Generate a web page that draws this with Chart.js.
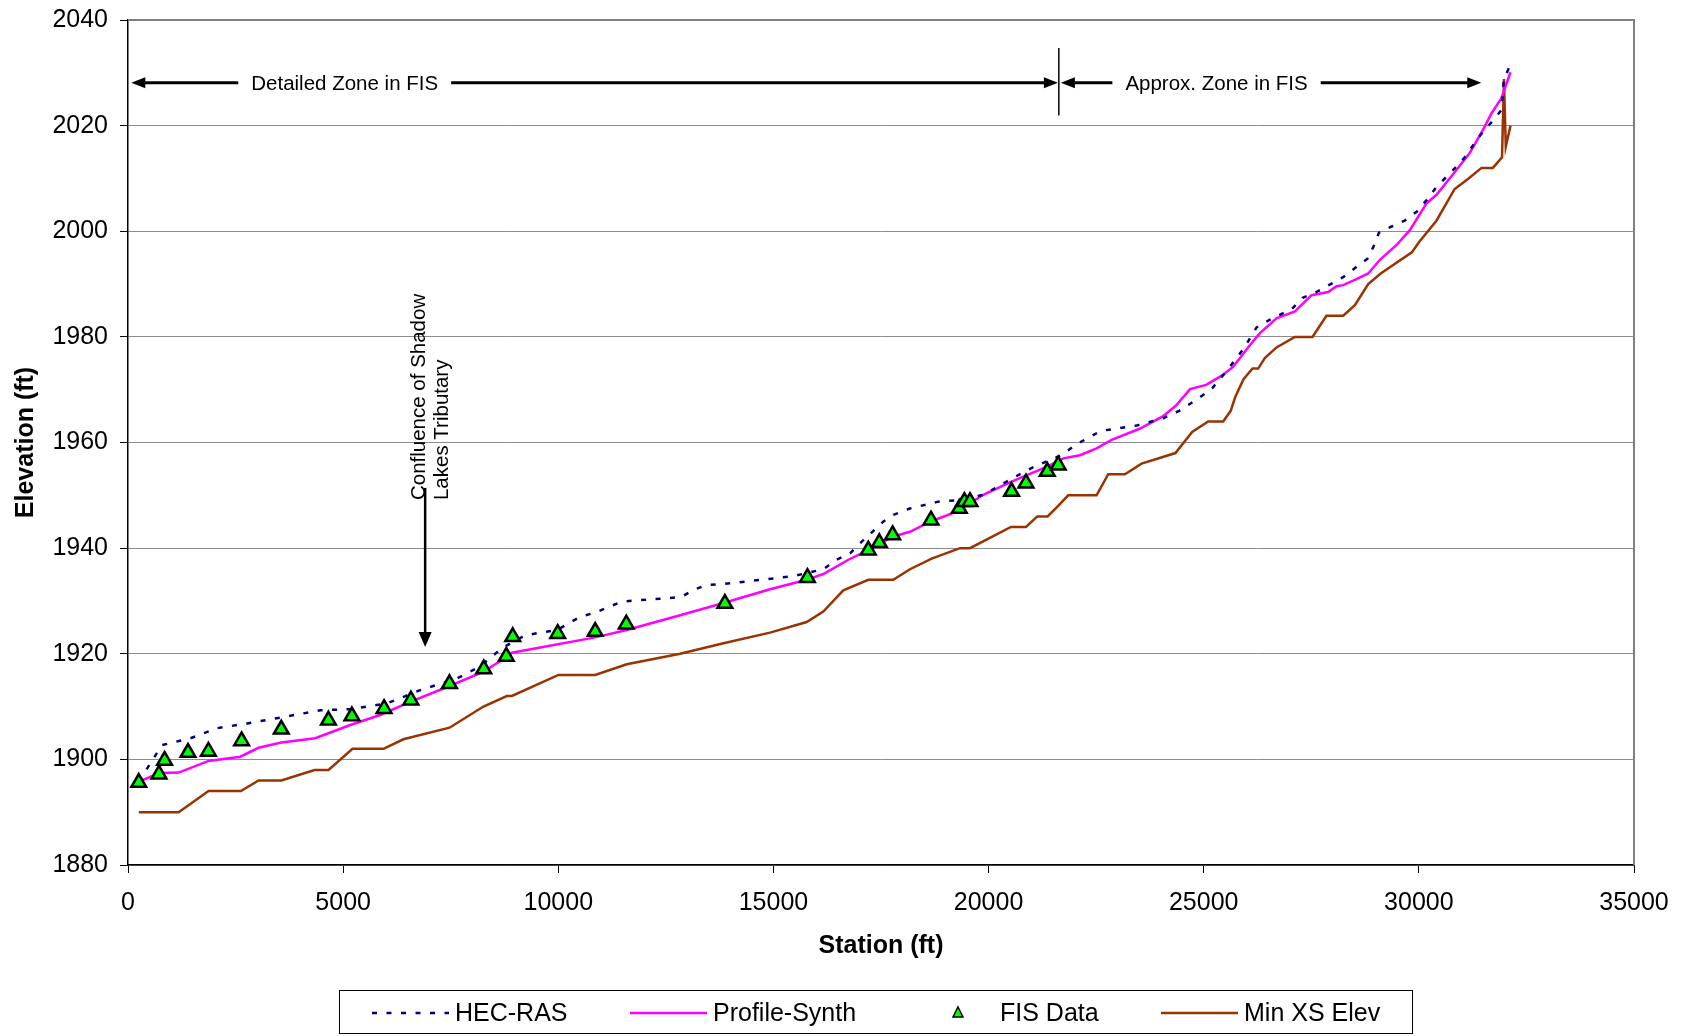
<!DOCTYPE html>
<html>
<head>
<meta charset="utf-8">
<title>Elevation profile</title>
<script src="https://cdn.jsdelivr.net/npm/chart.js@4.4.1/dist/chart.umd.min.js"></script>
<style>
  html, body { margin: 0; padding: 0; background: #fff; }
  #wrap { width: 1681px; height: 1036px; }
</style>
</head>
<body>
<div id="wrap"><canvas id="chart" width="1681" height="1036"></canvas></div>
<script>
// HEC-RAS water surface
const hecStation = [250, 790, 1450, 2070, 2770, 3460, 4470, 5170, 6020, 6790, 7640, 8180, 8700, 9230, 9970, 10510,
  10860, 11480, 12520, 12870, 13140, 13450, 14070, 15460, 16160, 16470, 16780, 17010, 17550, 17790, 18170, 18830,
  19340, 19880, 20770, 21080, 21700, 22010, 22610, 23440, 24060, 24430, 24810, 25180, 25550, 25930, 26230, 26550,
  27050, 27300, 27620, 28240, 28510, 28820, 28980, 29070, 29370, 29670, 29950, 30180, 30410, 30640, 30870, 31110,
  31340, 31530, 31770, 31920, 31975, 32115];
const hecElev = [1895.8, 1902.7, 1904.0, 1905.9, 1906.8, 1907.8, 1909.3, 1909.5, 1910.6, 1913.1, 1915.3, 1917.6,
  1921.1, 1923.5, 1924.5, 1927.0, 1927.8, 1929.9, 1930.5, 1930.8, 1932.1, 1933.0, 1933.4, 1934.7, 1936.0, 1937.8,
  1939.0, 1940.9, 1945.0, 1946.3, 1947.5, 1948.8, 1949.1, 1950.1, 1954.2, 1955.5, 1957.6, 1959.5, 1962.2, 1963.2,
  1964.6, 1966.0, 1968.0, 1970.1, 1973.7, 1977.8, 1981.8, 1983.3, 1985.3, 1987.4, 1988.5, 1991.3, 1993.0, 1994.9,
  1997.7, 1999.7, 2000.9, 2002.0, 2003.7, 2005.9, 2008.4, 2010.3, 2012.2, 2014.4, 2017.3, 2019.2, 2021.4, 2023.0,
  2028.8, 2031.3];

// synthesized profile
const synthStation = [250, 735, 1176, 1873, 2610, 3034, 3562, 4351, 5165, 5860, 6558, 7449, 8261, 8804, 8921, 10857,
  11591, 12832, 13838, 14921, 15773, 16159, 16742, 17204, 17785, 18173, 18639, 19257, 19877, 20534, 21349, 21735,
  22124, 22510, 22859, 23510, 24058, 24357, 24681, 25055, 25429, 25678, 25852, 26072, 26306, 26692, 27118, 27506,
  27892, 28086, 28241, 28513, 28823, 29095, 29483, 29790, 30179, 30410, 30873, 31181, 31490, 31687, 31919, 32128];
const synthElev = [1895.8, 1897.4, 1897.5, 1899.7, 1900.5, 1902.2, 1903.2, 1904.0, 1906.5, 1908.4, 1910.9, 1913.8,
  1916.6, 1919.4, 1920.2, 1923.1, 1924.5, 1927.3, 1929.6, 1932.2, 1934.0, 1935.1, 1937.8, 1939.6, 1942.2, 1943.1,
  1945.0, 1946.9, 1950.1, 1952.6, 1955.4, 1957.0, 1957.6, 1958.9, 1960.5, 1962.6, 1965.0, 1967.0, 1970.1, 1970.9,
  1972.7, 1974.3, 1976.1, 1978.4, 1980.7, 1983.5, 1984.8, 1987.9, 1988.5, 1989.6, 1989.8, 1990.8, 1992.0, 1994.6,
  1997.4, 2000.2, 2005.3, 2006.9, 2011.6, 2014.8, 2019.2, 2022.3, 2025.2, 2030.1];

// FIS published elevations
const fisStation = [250, 720, 850, 1395, 1868, 2640, 3562, 4658, 5204, 5951, 6574, 7471, 8268, 8791, 8941, 9986,
  10858, 11580, 13872, 15790, 17204, 17461, 17770, 18662, 19320, 19436, 19568, 20534, 20869, 21364, 21618];
const fisElev = [1895.6, 1897.2, 1899.8, 1901.3, 1901.5, 1903.5, 1905.7, 1907.4, 1908.2, 1909.6, 1911.2, 1914.3,
  1917.1, 1919.5, 1923.2, 1923.8, 1924.2, 1925.6, 1929.5, 1934.4, 1939.6, 1941.0, 1942.5, 1945.3, 1947.5, 1948.8,
  1948.8, 1950.7, 1952.3, 1954.5, 1955.7];

// minimum cross-section elevation
const minStation = [250, 1176, 1873, 2625, 3034, 3562, 4336, 4660, 5218, 5938, 6400, 7472, 8261, 8804, 8921, 10005,
  10857, 11591, 12832, 13838, 14921, 15773, 16159, 16624, 17205, 17785, 18173, 18677, 19335, 19568, 20520, 20869,
  21133, 21372, 21618, 21850, 22510, 22781, 23168, 23556, 24343, 24731, 25104, 25453, 25627, 25733, 25926, 26134,
  26266, 26420, 26692, 27118, 27528, 27852, 28241, 28513, 28823, 29113, 29836, 30010, 30408, 30832, 31156, 31455,
  31720, 31933, 31978, 32020, 32130];
const minElev = [1890, 1890, 1894, 1894, 1896, 1896, 1898, 1898, 1902, 1902, 1903.8, 1906, 1910, 1912, 1912, 1916,
  1916, 1918, 1920, 1922, 1924, 1926, 1928, 1932, 1934, 1934, 1936, 1938, 1940, 1940, 1944, 1944,
  1946, 1946, 1948, 1950, 1950, 1954, 1954, 1956, 1958, 1962, 1964, 1964, 1966, 1968.6, 1972, 1974,
  1974, 1976, 1978, 1980, 1980, 1984, 1984, 1986, 1990, 1992, 1996, 1998, 2002, 2008, 2010, 2012,
  2012, 2014, 2028.8, 2016, 2020];

const xTicks = [0, 5000, 10000, 15000, 20000, 25000, 30000, 35000];
const yTicks = [1880, 1900, 1920, 1940, 1960, 1980, 2000, 2020, 2040];

const pts = (xs, ys) => xs.map((x, i) => ({ x: x, y: ys[i] }));

const FONT = 'Liberation Sans, Arial, sans-serif';

function arrowHead(ctx, x, y, dx, dy, len, half) {
  ctx.beginPath();
  ctx.moveTo(x, y);
  ctx.lineTo(x - dx * len - dy * half, y - dy * len + dx * half);
  ctx.lineTo(x - dx * len + dy * half, y - dy * len - dx * half);
  ctx.closePath();
  ctx.fill();
}

function zoneArrow(ctx, x1, x2, y, label, cx) {
  ctx.beginPath();
  ctx.moveTo(x1 + 10, y);
  ctx.lineTo(x2 - 10, y);
  ctx.stroke();
  arrowHead(ctx, x1, y, -1, 0, 14, 5.5);
  arrowHead(ctx, x2, y, 1, 0, 14, 5.5);
  const w = ctx.measureText(label).width;
  ctx.fillStyle = '#fff';
  ctx.fillRect(cx - w / 2 - 13, y - 12, w + 26, 24);
  ctx.fillStyle = '#000';
  ctx.fillText(label, cx, y + 1);
}

const notes = {
  id: 'notes',
  beforeDatasetsDraw(chart) {
    const { ctx, chartArea: a } = chart;
    ctx.save();
    ctx.strokeStyle = '#808080';
    ctx.lineWidth = 2;
    ctx.beginPath();
    ctx.moveTo(a.left, a.top);
    ctx.lineTo(a.right, a.top);
    ctx.lineTo(a.right, a.bottom);
    ctx.stroke();
    ctx.restore();
  },
  afterDatasetsDraw(chart) {
    const { ctx } = chart;
    const xs = chart.scales.x, ys = chart.scales.y;
    ctx.save();
    ctx.fillStyle = '#000';
    ctx.strokeStyle = '#000';
    ctx.lineWidth = 3;
    ctx.font = '20.5px ' + FONT;
    ctx.textAlign = 'center';
    ctx.textBaseline = 'middle';

    // zone arrows along the top
    const yz = ys.getPixelForValue(2028.1);
    zoneArrow(ctx, xs.getPixelForValue(77), xs.getPixelForValue(21611), yz, 'Detailed Zone in FIS', xs.getPixelForValue(5036));
    zoneArrow(ctx, xs.getPixelForValue(21680), xs.getPixelForValue(31450), yz, 'Approx. Zone in FIS', xs.getPixelForValue(25298));
    const xd = xs.getPixelForValue(21633);
    ctx.lineWidth = 1.5;
    ctx.beginPath();
    ctx.moveTo(xd, ys.getPixelForValue(2034.7));
    ctx.lineTo(xd, ys.getPixelForValue(2021.9));
    ctx.stroke();

    // confluence note
    const xa = xs.getPixelForValue(6906);
    const yTxt = ys.getPixelForValue(1949.1);
    ctx.save();
    ctx.translate(xa, yTxt);
    ctx.rotate(-Math.PI / 2);
    ctx.textAlign = 'left';
    ctx.textBaseline = 'alphabetic';
    ctx.fillText('Confluence of Shadow', 0, 0);
    ctx.fillText('Lakes Tributary', 0, 23);
    ctx.restore();
    const yTip = ys.getPixelForValue(1921.3);
    ctx.lineWidth = 2.5;
    ctx.beginPath();
    ctx.moveTo(xa, ys.getPixelForValue(1951.4));
    ctx.lineTo(xa, yTip - 10);
    ctx.stroke();
    arrowHead(ctx, xa, yTip, 0, 1, 15, 6.5);

    // legend
    const box = { l: 339, t: 990, r: 1412, b: 1033 };
    ctx.lineWidth = 1;
    ctx.strokeStyle = '#000';
    ctx.strokeRect(box.l + 0.5, box.t + 0.5, box.r - box.l, box.b - box.t);
    const slotX = [372, 630, 958, 1161];
    const ly = 1013;
    ctx.font = '25px ' + FONT;
    ctx.textAlign = 'left';
    ctx.textBaseline = 'middle';
    chart.data.datasets.forEach((ds, i) => {
      const x0 = slotX[i];
      let tx;
      if (ds.showLine === false) {
        ctx.save();
        ctx.fillStyle = ds.pointBackgroundColor;
        ctx.strokeStyle = ds.pointBorderColor;
        ctx.lineWidth = 1.5;
        ctx.beginPath();
        ctx.moveTo(x0, ly - 6);
        ctx.lineTo(x0 + 5, ly + 4);
        ctx.lineTo(x0 - 5, ly + 4);
        ctx.closePath();
        ctx.fill();
        ctx.stroke();
        ctx.restore();
        tx = x0 + 42;
      } else {
        ctx.save();
        ctx.strokeStyle = ds.borderColor;
        ctx.lineWidth = ds.borderWidth;
        ctx.setLineDash(ds.borderDash || []);
        ctx.beginPath();
        ctx.moveTo(x0, ly);
        ctx.lineTo(x0 + 77, ly);
        ctx.stroke();
        ctx.restore();
        tx = x0 + 83;
      }
      ctx.fillStyle = '#000';
      ctx.fillText(ds.label, tx, ly + 1);
    });
    ctx.restore();
  }
};

const tickFont = { family: FONT, size: 25 };
const titleFont = { family: FONT, size: 25, weight: 'bold' };
const plain = v => String(v);

new Chart(document.getElementById('chart'), {
  type: 'line',
  data: {
    datasets: [
      { label: 'HEC-RAS', data: pts(hecStation, hecElev), borderColor: '#000080', borderWidth: 2.5,
        borderDash: [5, 9.5], pointRadius: 0, tension: 0 },
      { label: 'Profile-Synth', data: pts(synthStation, synthElev), borderColor: '#ff00ff', borderWidth: 2.5,
        pointRadius: 0, tension: 0 },
      { label: 'FIS Data', data: pts(fisStation, fisElev), showLine: false, pointStyle: 'triangle', pointRadius: 8.5,
        pointBackgroundColor: '#00ff00', pointBorderColor: '#000', pointBorderWidth: 2.5, order: -1 },
      { label: 'Min XS Elev', data: pts(minStation, minElev), borderColor: '#993300', borderWidth: 2.5,
        pointRadius: 0, tension: 0 }
    ]
  },
  options: {
    responsive: false,
    animation: false,
    events: [],
    layout: { padding: { top: 20, right: 47, left: 0, bottom: 0 } },
    scales: {
      x: {
        type: 'linear', min: 0, max: 35000,
        afterBuildTicks: s => { s.ticks = xTicks.map(v => ({ value: v })); },
        afterFit: s => { s.height = 171; s.paddingLeft = 0; s.paddingRight = 0; },
        ticks: { font: tickFont, color: '#000', padding: 15, maxRotation: 0, callback: plain },
        grid: { drawOnChartArea: false, tickColor: '#000', tickLength: 8 },
        border: { color: '#000', width: 1.5 },
        title: { display: true, text: 'Station (ft)', font: titleFont, color: '#000', padding: { top: 75, bottom: 75 } }
      },
      y: {
        type: 'linear', min: 1880, max: 2040,
        afterBuildTicks: s => { s.ticks = yTicks.map(v => ({ value: v })); },
        afterFit: s => { s.width = 128; s.paddingTop = 0; s.paddingBottom = 0; },
        ticks: { font: tickFont, color: '#000', padding: 12, callback: plain },
        grid: { color: '#8c8c8c', lineWidth: 1, tickColor: '#000', tickLength: 8 },
        border: { color: '#000', width: 1.5 },
        title: { display: true, text: 'Elevation (ft)', font: titleFont, color: '#000', padding: { top: 11, bottom: 11 } }
      }
    },
    plugins: { legend: { display: false }, tooltip: { enabled: false } }
  },
  plugins: [notes]
});
</script>
</body>
</html>
